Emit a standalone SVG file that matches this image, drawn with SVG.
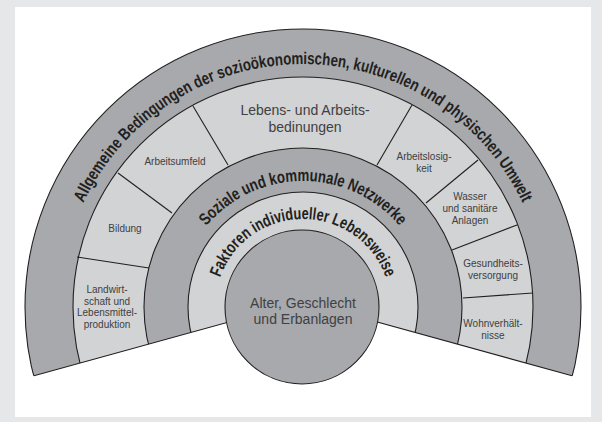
<svg xmlns="http://www.w3.org/2000/svg" width="602" height="422" viewBox="0 0 602 422">
<style>
.dark{fill:#a7a9ac;stroke:#231f20;stroke-width:1.1}
.light{fill:#d1d3d4;stroke:#231f20;stroke-width:1.1}
.ln{fill:none;stroke:#231f20;stroke-width:1.1}
.lbl{font-family:"Liberation Sans",Arial,sans-serif;font-size:10px;fill:#414042;text-anchor:middle}
.big{font-family:"Liberation Sans",Arial,sans-serif;font-size:14px;fill:#414042;text-anchor:middle}
.arc{font-family:"Liberation Sans",Arial,sans-serif;font-size:17px;font-weight:bold;fill:#231f20;text-anchor:middle}
</style>
<defs>
<clipPath id="fan"><polygon points="0,0 606,0 606,385.1 303,301.5 0,385.1"/></clipPath>
<path id="pOuter" d="M60,307 A243,243 0 0 1 546,307"/>
<path id="pSoz" d="M177,307 A126,126 0 0 1 429,307"/>
<path id="pFak" d="M215,307 A88,88 0 0 1 391,307"/>
</defs>
<rect x="0" y="0" width="602" height="422" fill="#e6e7e8"/>
<rect x="15" y="7" width="576" height="410" fill="#ffffff"/>
<g id="rings" clip-path="url(#fan)">
<circle id="ring-umwelt" class="dark" cx="303" cy="307" r="278"/>
<circle id="ring-lebens" class="light" cx="303" cy="307" r="230"/>
<circle id="ring-netzwerke" class="dark" cx="303" cy="307" r="159"/>
<circle id="ring-faktoren" class="light" cx="303" cy="307" r="115"/>
</g>
<g id="connectors">
<polyline class="ln" points="34,375.8 303,301.5 572,375.8"/>
<line class="ln" x1="77" y1="257" x2="149" y2="268"/>
<line class="ln" x1="118" y1="173" x2="172" y2="213"/>
<line class="ln" x1="193" y1="106" x2="228" y2="165"/>
<line class="ln" x1="412" y1="105" x2="377" y2="165"/>
<line class="ln" x1="478" y1="160" x2="426" y2="203"/>
<line class="ln" x1="517" y1="225" x2="452" y2="250"/>
<line class="ln" x1="533" y1="293" x2="463" y2="298"/>
</g>
<g id="center">
<circle class="dark" cx="302" cy="307" r="77"/>
<text class="big" x="303" y="308">Alter, Geschlecht</text>
<text class="big" x="303" y="324">und Erbanlagen</text>
</g>
<g id="umwelt">
<text class="arc"><textPath href="#pOuter" startOffset="50%" textLength="548" lengthAdjust="spacingAndGlyphs">Allgemeine Bedingungen der sozioökonomischen, kulturellen und physischen Umwelt</textPath></text>
</g>
<g id="netzwerke">
<text class="arc"><textPath href="#pSoz" startOffset="50%" textLength="220" lengthAdjust="spacingAndGlyphs">Soziale und kommunale Netzwerke</textPath></text>
</g>
<g id="faktoren">
<text class="arc"><textPath href="#pFak" startOffset="50%" textLength="216" lengthAdjust="spacingAndGlyphs">Faktoren individueller Lebensweise</textPath></text>
</g>
<g id="seg-landwirtschaft">
<text class="lbl" x="107" y="293">Landwirt-</text>
<text class="lbl" x="107" y="304.5">schaft und</text>
<text class="lbl" x="107" y="316">Lebensmittel-</text>
<text class="lbl" x="107" y="327.5">produktion</text>
</g>
<g id="seg-bildung"><text class="lbl" x="125" y="232">Bildung</text></g>
<g id="seg-arbeitsumfeld"><text class="lbl" x="175" y="165">Arbeitsumfeld</text></g>
<g id="seg-lebens">
<text class="big" x="305" y="115">Lebens- und Arbeits-</text>
<text class="big" x="305" y="132">bedinungen</text>
</g>
<g id="seg-arbeitslosigkeit">
<text class="lbl" x="424" y="160">Arbeitslosig-</text>
<text class="lbl" x="424" y="172">keit</text>
</g>
<g id="seg-wasser">
<text class="lbl" x="470" y="200">Wasser</text>
<text class="lbl" x="470" y="212">und sanitäre</text>
<text class="lbl" x="470" y="224">Anlagen</text>
</g>
<g id="seg-gesundheit">
<text class="lbl" x="493" y="267">Gesundheits-</text>
<text class="lbl" x="493" y="279">versorgung</text>
</g>
<g id="seg-wohnen">
<text class="lbl" x="493" y="327">Wohnverhält-</text>
<text class="lbl" x="493" y="339">nisse</text>
</g>
</svg>
